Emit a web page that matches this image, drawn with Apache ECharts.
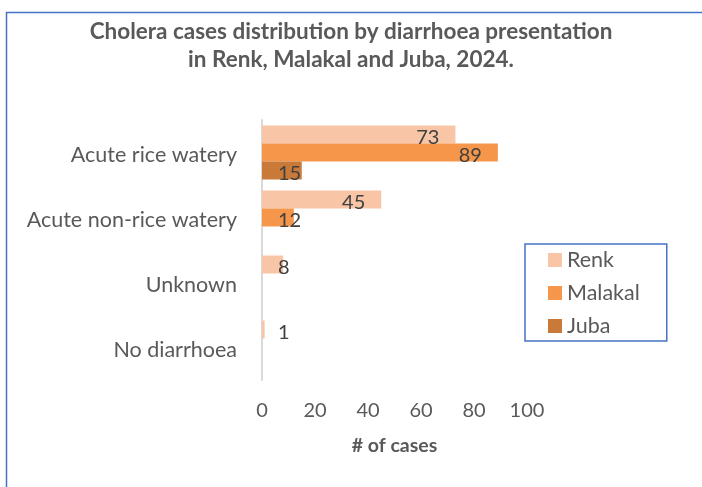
<!DOCTYPE html>
<html><head><meta charset="utf-8">
<script src="https://cdn.jsdelivr.net/npm/echarts@6/dist/echarts.min.js"></script>
<style>html,body{margin:0;padding:0;background:#fff}#c{width:702px;height:487px}</style>
</head><body><div id="c"></div>
<script>
const categories = ['Acute rice watery', 'Acute non-rice watery', 'Unknown', 'No diarrhoea'];
const renk = [73, 45, 8, 1];
const malakal = [89, 12, null, null];
const juba = [15, null, null, null];
const seriesNames = ['Renk', 'Malakal', 'Juba'];
const colors = ['#F8C5A6', '#F5964A', '#C97A38'];
const FONT = 'Lato, "Open Sans", sans-serif';

function labelled(vals) {
  return vals.map(v => {
    if (v == null) return null;
    if (v >= 20) return { value: v, label: { position: 'insideRight', distance: 16, offset: [0, 3] } };
    return { value: v, label: { position: [16, '50%'], verticalAlign: 'middle', align: 'left', offset: [0, 3] } };
  });
}

const chart = echarts.init(document.getElementById('c'));
const datasets = [renk, malakal, juba];
chart.setOption({
  animation: false,
  title: {
    text: 'Cholera cases distribution by diarrhoea presentation\nin Renk, Malakal and Juba, 2024.',
    left: 'center', top: 13,
    textStyle: { fontFamily: FONT, fontWeight: 'bold', fontSize: 22.5, color: '#595959', lineHeight: 28 }
  },
  graphic: [{ type: 'rect', left: 4, top: 10, shape: { width: 760, height: 520 }, style: { fill: null, stroke: '#4472C4', lineWidth: 1.5 } }],
  legend: {
    orient: 'vertical', left: 525, top: 244,
    itemWidth: 14, itemHeight: 14, itemGap: 11,
    padding: [5, 27, 4, 23],
    borderColor: '#4472C4', borderWidth: 1.5,
    icon: 'rect',
    textStyle: { fontFamily: FONT, fontSize: 21.5, color: '#595959', lineHeight: 20 },
    data: seriesNames
  },
  grid: { left: 262, right: 175, top: 120, bottom: 107 },
  xAxis: {
    type: 'value', min: 0, max: 100, interval: 20,
    name: '# of cases', nameLocation: 'middle', nameGap: 56,
    nameTextStyle: { fontFamily: FONT, fontWeight: 'bold', fontSize: 19.5, color: '#595959' },
    axisLine: { show: false }, axisTick: { show: false }, splitLine: { show: false },
    axisLabel: { fontFamily: FONT, fontSize: 20, color: '#595959', margin: 21 }
  },
  yAxis: {
    type: 'category', data: categories, inverse: true,
    axisLine: { show: true, lineStyle: { color: '#D9D9D9', width: 2 } },
    axisTick: { show: false },
    axisLabel: {
      fontFamily: FONT, fontSize: 21.5, color: '#595959', margin: 25,
      formatter: v => '{a|' + v + '}',
      rich: { a: { fontFamily: FONT, fontSize: 21.5, color: '#595959', padding: [5, 0, 0, 0] } }
    }
  },
  series: datasets.map((d, i) => ({
    name: seriesNames[i], type: 'bar', data: labelled(d),
    itemStyle: { color: colors[i] },
    barGap: '0%', barCategoryGap: '17%',
    label: { show: true, fontFamily: FONT, fontSize: 20, color: '#404040' }
  }))
});
</script></body></html>
